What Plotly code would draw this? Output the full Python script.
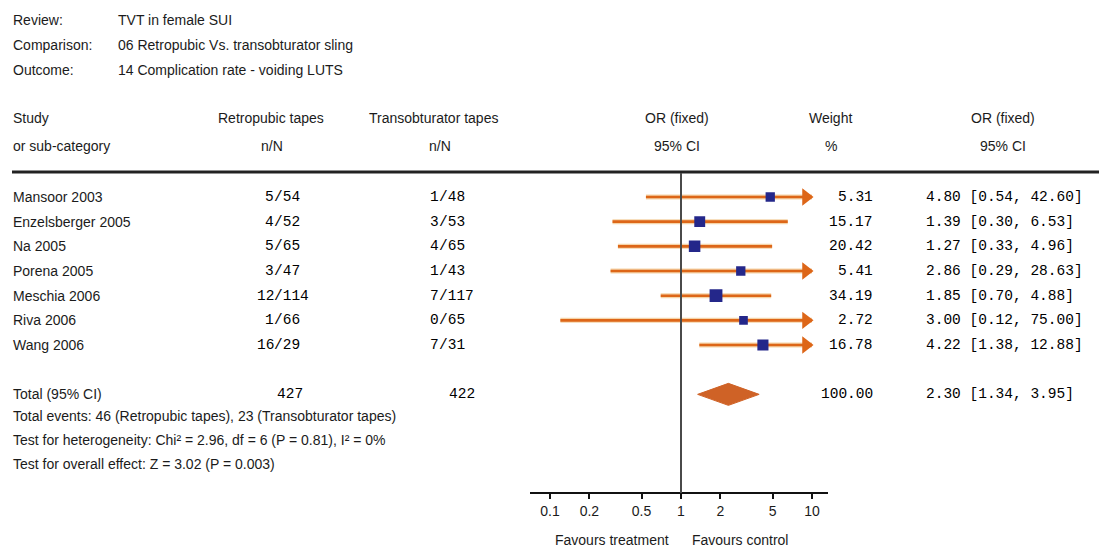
import math
import plotly.graph_objects as go

# ---- data -------------------------------------------------------------
studies = ["Mansoor 2003", "Enzelsberger 2005", "Na 2005", "Porena 2005",
           "Meschia 2006", "Riva 2006", "Wang 2006"]
retro_events = [5, 4, 5, 3, 12, 1, 16]
retro_total = [54, 52, 65, 47, 114, 66, 29]
trans_events = [1, 3, 4, 1, 7, 0, 7]
trans_total = [48, 53, 65, 43, 117, 65, 31]
weights = [5.31, 15.17, 20.42, 5.41, 34.19, 2.72, 16.78]
or_est = [4.80, 1.39, 1.27, 2.86, 1.85, 3.00, 4.22]
ci_low = [0.54, 0.30, 0.33, 0.29, 0.70, 0.12, 1.38]
ci_high = [42.60, 6.53, 4.96, 28.63, 4.88, 75.00, 12.88]

total_retro = 427
total_trans = 422
total_weight = 100.00
total_or = 2.30
total_low = 1.34
total_high = 3.95

tick_vals = [0.1, 0.2, 0.5, 1, 2, 5, 10]
tick_text = ["0.1", "0.2", "0.5", "1", "2", "5", "10"]

header_info = [("Review:", "TVT in female SUI"),
               ("Comparison:", "06 Retropubic Vs. transobturator sling"),
               ("Outcome:", "14 Complication rate - voiding LUTS")]
footnotes = ["Total events: 46 (Retropubic tapes), 23 (Transobturator tapes)",
             "Test for heterogeneity: Chi² = 2.96, df = 6 (P = 0.81), I² = 0%",
             "Test for overall effect: Z = 3.02 (P = 0.003)"]

# ---- layout constants -------------------------------------------------
W, H = 1101, 550
SANS = "Liberation Sans, Arial, sans-serif"
SANS_SIZE = 14
MONO = "Liberation Mono, Courier New, monospace"
MONO_SIZE = 14.5
INK = "#1b1b1b"
ORANGE = "#DD6618"
HALO = "rgba(236,176,96,0.55)"
BLUE = "#24278A"
DIAMOND = "#CF6226"

SCALE_MIN, SCALE_MAX = 0.1, 10     # plotted window of the OR scale
ARROW_RIGHT = 9.0                  # arrowhead centre for clipped upper limits
ARROW_LEFT = 0.111

X_ONE, DECADE = 681, 131           # pixel of OR=1 and pixel length of one decade
ROW0, ROW_H = 197, 24.67           # first study row and row pitch (pixels)
LOG_MIN, LOG_MAX = -1.15, 1.12


def px(x):
    return x / W


def py(y):
    return 1 - y / H


fig = go.Figure()

# confidence interval lines
for i in range(len(studies)):
    lo = max(ci_low[i], SCALE_MIN)
    hi = min(ci_high[i], SCALE_MAX)
    for color, width in ((HALO, 5), (ORANGE, 2.6)):
        fig.add_trace(go.Scatter(x=[lo, hi], y=[i, i], mode="lines",
                                 line=dict(color=color, width=width),
                                 hoverinfo="skip", showlegend=False))
    if ci_high[i] > SCALE_MAX:
        fig.add_trace(go.Scatter(x=[ARROW_RIGHT], y=[i], mode="markers",
                                 marker=dict(symbol="triangle-right", size=15,
                                             color=ORANGE, opacity=1,
                                             line=dict(width=0)),
                                 hoverinfo="skip", showlegend=False))
    if ci_low[i] < SCALE_MIN:
        fig.add_trace(go.Scatter(x=[ARROW_LEFT], y=[i], mode="markers",
                                 marker=dict(symbol="triangle-left", size=15,
                                             color=ORANGE, opacity=1,
                                             line=dict(width=0)),
                                 hoverinfo="skip", showlegend=False))

# point estimates, sized by weight
fig.add_trace(go.Scatter(
    x=or_est, y=list(range(len(studies))), mode="markers",
    marker=dict(symbol="square", color=BLUE, opacity=1,
                size=[7 + math.sqrt(w) for w in weights],
                line=dict(width=0)),
    hoverinfo="skip", showlegend=False))

# pooled estimate diamond
total_row = len(studies) + 1
half_h = 11 / ROW_H
fig.add_trace(go.Scatter(
    x=[total_low, total_or, total_high, total_or, total_low],
    y=[total_row, total_row - half_h, total_row, total_row + half_h, total_row],
    mode="lines", fill="toself", fillcolor=DIAMOND,
    line=dict(color=DIAMOND, width=1),
    hoverinfo="skip", showlegend=False))

# ---- shapes -------------------------------------------------------------
shapes = [
    dict(type="line", xref="paper", yref="paper", x0=px(12), x1=px(1099),
         y0=py(172), y1=py(172), line=dict(color="#222", width=3)),
    dict(type="line", xref="x", yref="paper", x0=1, x1=1,
         y0=py(173), y1=py(493), line=dict(color="#4a4a4a", width=2)),
]

# ---- text ---------------------------------------------------------------
ann = []


def text(x, y, s, anchor="left", font=SANS, size=SANS_SIZE, yref="paper",
         color=INK):
    ann.append(dict(x=px(x), y=(py(y) if yref == "paper" else y), xref="paper",
                    yref=yref, text=s, showarrow=False, xanchor=anchor,
                    yanchor="middle", borderpad=0, borderwidth=0,
                    font=dict(family=font, size=size, color=color)))


def mono(x, y, s, anchor="left"):
    text(x, y, s, anchor, MONO, MONO_SIZE, "y", "#000")


for k, (lab, val) in enumerate(header_info):
    text(13, 20 + 25 * k, lab)
    text(118, 20 + 25 * k, val)

text(13, 118, "Study")
text(13, 146, "or sub-category")
text(271, 118, "Retropubic tapes", "center")
text(272, 146, "n/N", "center")
text(433, 118, "Transobturator tapes", "center")
text(440, 146, "n/N", "center")
text(677, 118, "OR (fixed)", "center")
text(677, 146, "95% CI", "center")
text(830, 118, "Weight", "center")
text(831, 146, "%", "center")
text(1003, 118, "OR (fixed)", "center")
text(1003, 146, "95% CI", "center")

RETRO_SLASH, TRANS_SLASH = 273.5, 438.5
for i, name in enumerate(studies):
    text(13, i, name, yref="y")
    mono(RETRO_SLASH, i, str(retro_events[i]), "right")
    mono(RETRO_SLASH, i, "/" + str(retro_total[i]))
    mono(TRANS_SLASH, i, str(trans_events[i]), "right")
    mono(TRANS_SLASH, i, "/" + str(trans_total[i]))
    mono(873, i, f"{weights[i]:.2f}", "right")
    mono(926, i, f"{or_est[i]:.2f} [{ci_low[i]:.2f}, {ci_high[i]:.2f}]")

text(13, total_row, "Total (95% CI)", yref="y")
mono(277, total_row, str(total_retro))
mono(449, total_row, str(total_trans))
mono(873, total_row, f"{total_weight:.2f}", "right")
mono(926, total_row, f"{total_or:.2f} [{total_low:.2f}, {total_high:.2f}]")

for k, line in enumerate(footnotes):
    text(13, 416 + 24 * k, line)

text(612, 540, "Favours treatment", "center")
text(740, 540, "Favours control", "center")

# ---- axes -----------------------------------------------------------------
x0_px = X_ONE + DECADE * LOG_MIN
x1_px = X_ONE + DECADE * LOG_MAX
y_bottom = (H - ROW0) / ROW_H
y_top = -ROW0 / ROW_H

fig.update_layout(
    width=W, height=H,
    margin=dict(l=0, r=0, t=0, b=0),
    paper_bgcolor="white", plot_bgcolor="white",
    shapes=shapes, annotations=ann,
    xaxis=dict(type="log", range=[LOG_MIN, LOG_MAX],
               domain=[px(x0_px), px(x1_px)],
               anchor="free", position=py(493),
               showline=True, linecolor="#111", linewidth=2,
               ticks="outside", ticklen=5, tickwidth=2, tickcolor="#111",
               tickvals=tick_vals, ticktext=tick_text,
               tickfont=dict(family=SANS, size=14, color=INK),
               showgrid=False, zeroline=False, fixedrange=True),
    yaxis=dict(range=[y_bottom, y_top], domain=[0, 1], visible=False,
               showgrid=False, zeroline=False, fixedrange=True),
)

fig.write_html("out.html")
